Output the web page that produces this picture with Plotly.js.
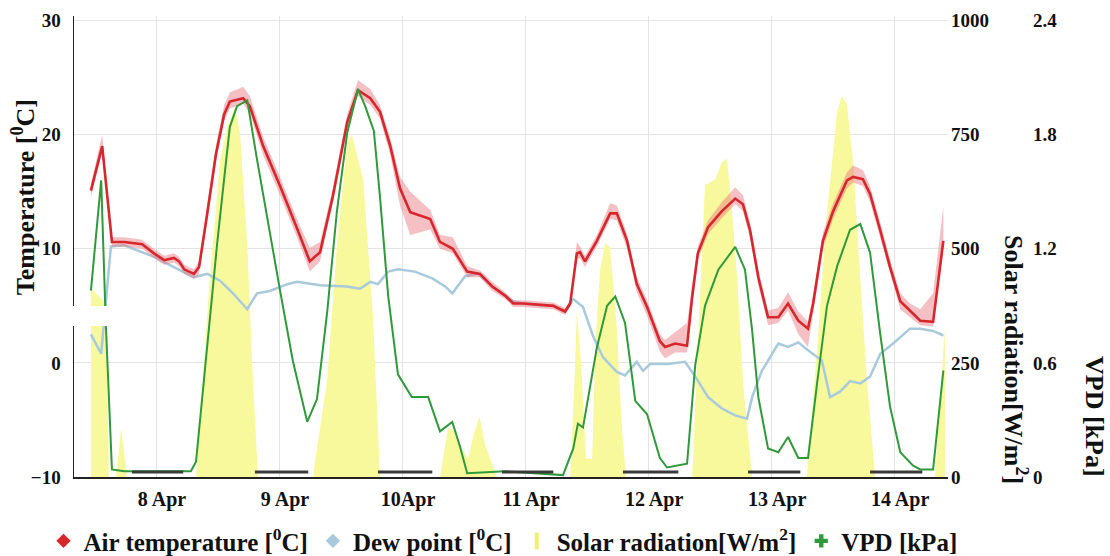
<!DOCTYPE html>
<html>
<head>
<meta charset="utf-8">
<script src="https://cdn.plot.ly/plotly-3.0.1.min.js"></script>
<style>
  html, body { margin: 0; padding: 0; background: #fff; }
  #chart { width: 1110px; height: 556px; }
  #chart svg text { font-family: "Liberation Serif", "Tinos", "Times New Roman", "DejaVu Serif", serif !important; }
</style>
</head>
<body>
<div id="chart"></div>
<script>
// ---- Data (hours relative to 8 Apr 00:00) ----
const dayTickHours = [0, 24, 48, 72, 96, 120, 144];
const dayTickLabels = ['8 Apr', '9 Apr', '10Apr', '11 Apr', '12 Apr', '13 Apr', '14 Apr'];

const tempHours = [-12.7,-10.5,-8.6,-6.2,-2.7,-0.4,1.6,3.5,4.5,5.5,7.4,8.4,10.0,11.7,13.3,14.4,17.0,18.3,20.9,24.2,
  27.5,30.0,32.0,34.5,37.3,39.4,41.8,43.7,45.7,47.6,49.6,53.5,55.4,57.9,60.7,63.2,65.6,68.1,69.7,71.6,
  77.5,79.8,80.8,82.1,82.7,83.7,86.0,88.6,89.9,91.9,93.8,95.8,98.3,99.3,101.3,103.6,104.6,105.7,107.7,110.4,
  113.0,114.5,115.9,117.5,119.4,121.4,123.3,125.3,127.2,128.2,130.1,132.1,134.8,136.0,137.9,139.3,141.3,143.2,145.2,147.1,
  149.1,151.6,153.6];
const airTemp = [15.1,19.0,10.6,10.6,10.4,9.6,9.0,9.2,8.9,8.2,7.8,8.4,13.1,18.3,21.8,22.9,23.2,22.5,19.0,15.5,
  11.8,8.9,9.7,14.6,21.1,23.9,23.2,22.0,19.0,15.3,13.2,12.6,10.6,10.0,8.0,7.8,6.7,5.9,5.2,5.2,
  5.0,4.5,5.2,9.6,9.7,8.9,10.7,13.1,13.1,10.7,6.9,4.9,1.9,1.4,1.7,1.5,5.8,9.6,11.9,13.3,
  14.4,13.9,11.6,7.5,4.0,4.0,5.2,3.7,3.0,5.2,10.7,13.3,16.0,16.3,16.1,14.8,11.6,8.4,5.4,4.6,
  3.7,3.6,10.7];
const airTempSpreadUp = [0.6,1.0,0.4,0.4,0.4,0.4,0.4,0.4,0.4,0.4,0.4,0.5,0.8,0.8,0.8,0.8,1.0,0.9,0.8,0.8,
  0.8,1.2,0.9,0.7,0.7,0.9,0.8,0.6,0.7,1.0,1.8,0.8,0.6,1.0,0.5,0.3,0.4,0.3,0.3,0.3,
  0.3,0.3,0.3,1.0,0.5,0.5,0.5,0.9,0.7,0.6,0.6,0.6,0.6,0.6,1.0,2.0,1.0,0.6,0.6,0.8,
  1.0,0.8,0.7,0.7,0.6,0.8,1.0,0.8,0.6,0.8,0.7,0.7,0.7,1.0,0.8,0.7,0.7,0.7,0.7,0.6,
  1.0,2.5,3.0];
const airTempSpreadDown = [0.6,0.5,0.4,0.4,0.4,0.4,0.4,0.4,0.4,0.4,0.4,0.6,0.6,0.6,0.6,0.6,0.5,0.6,0.8,0.8,
  0.8,0.9,0.8,0.6,0.6,0.5,0.6,0.6,0.8,1.5,2.0,0.9,0.6,0.4,0.5,0.3,0.4,0.3,0.3,0.3,
  0.3,0.3,0.3,0.5,0.5,0.5,0.5,0.5,0.6,0.7,0.7,0.8,0.9,1.0,0.8,0.6,0.8,0.6,0.6,0.6,
  0.5,0.6,0.7,0.7,0.7,0.5,0.6,1.2,1.6,0.8,0.7,0.7,0.7,0.5,0.6,0.7,0.7,0.7,0.7,0.6,
  0.4,0.4,0.5];

const dewHours = [-12.7,-10.7,-8.8,-6.2,-0.4,7.4,10.0,12.5,15.0,17.8,19.7,22.2,25.6,27.5,32.0,37.3,39.8,41.8,43.3,45.3,
  47.2,50.5,53.9,56.4,57.8,60.3,62.8,65.6,68.1,69.7,71.6,77.5,79.8,81.4,83.3,85.3,87.2,89.9,91.5,93.8,
  95.0,96.4,98.3,99.9,103.2,105.2,107.7,110.4,113.0,115.3,116.3,118.2,121.4,123.3,125.3,127.2,129.9,131.5,133.5,135.4,
  137.4,139.3,141.3,143.8,147.1,149.1,151.6,153.6];
const dewPoint = [2.5,0.8,10.2,10.3,9.3,7.5,7.8,7.2,6.1,4.7,6.1,6.3,6.9,7.1,6.8,6.7,6.5,7.1,6.9,8.0,
  8.2,8.0,7.4,6.7,6.1,7.6,7.8,6.7,5.9,5.4,5.2,5.0,4.5,5.6,4.9,2.3,0.5,-0.8,-1.1,0.1,
  -0.7,-0.1,-0.1,-0.1,0.1,-1.2,-3.0,-4.0,-4.6,-4.9,-3.0,-0.7,1.7,1.4,1.8,1.1,0.2,-3.0,-2.5,-1.6,
  -1.8,-1.2,0.8,1.7,3.0,3.0,2.8,2.4];

const solarHours = [-12.7,-9.8,-9.2,-7.8,-6.8,-5.7,7.8,10.5,12.5,13.9,15.4,16.4,17.8,18.9,19.9,30.6,33.4,35.3,37.3,38.2,
  40.4,42.3,43.7,55.4,57.0,58.3,59.7,60.9,61.9,63.1,64.2,65.2,66.5,80.8,81.6,82.1,82.9,83.9,85.1,85.7,
  86.6,87.6,88.6,89.9,90.9,91.7,104.6,105.7,107.1,109.1,110.4,111.4,112.4,113.4,114.5,116.3,127.0,129.0,130.9,132.9,
  133.8,134.8,136.0,137.0,138.7,140.3,152.0,153.0,153.9];
const solarRad = [414,380,0,0,108,0,0,435,693,766,810,752,509,214,0,0,214,509,730,750,
  653,354,0,0,108,100,60,40,90,133,70,38,0,0,200,365,250,40,40,285,
  450,513,502,325,104,0,0,285,639,652,690,697,580,431,210,0,0,285,580,801,
  834,816,690,507,210,0,0,170,330];

const vpdHours = [-12.7,-10.7,-9.8,-8.6,-6.2,-1.2,6.8,7.8,9.0,10.7,11.9,13.3,14.4,15.8,17.8,19.7,21.7,24.2,26.7,29.5,
  31.4,33.4,35.3,37.3,39.4,40.8,42.5,43.7,45.3,47.2,49.9,53.1,55.4,57.8,59.3,60.7,68.1,79.4,81.4,82.3,
  83.3,86.0,88.0,89.6,91.5,93.5,95.8,98.3,99.7,103.6,105.2,107.1,109.7,113.0,114.9,116.3,117.5,119.4,121.4,123.3,
  125.3,127.2,129.0,130.9,132.9,135.4,137.4,139.3,141.3,143.2,145.2,147.7,149.1,151.6,153.6];
const vpd = [0.98,1.56,0.81,0.04,0.03,0.03,0.03,0.08,0.42,0.86,1.22,1.57,1.84,1.95,1.98,1.67,1.36,0.98,0.61,0.29,
  0.41,0.87,1.40,1.81,2.04,1.95,1.82,1.47,0.95,0.54,0.42,0.42,0.24,0.29,0.16,0.02,0.03,0.01,0.15,0.28,
  0.26,0.68,0.90,0.95,0.81,0.40,0.33,0.10,0.05,0.07,0.59,0.90,1.09,1.21,1.09,0.77,0.42,0.15,0.13,0.21,
  0.10,0.10,0.50,0.90,1.11,1.30,1.33,1.18,0.75,0.37,0.13,0.06,0.04,0.04,0.56];

const nightStart = [-4.7, 19.3, 43.3, 67.5, 91.1, 115.5, 139.3];
const nightEnd   = [5.3, 29.7, 53.9, 77.5, 101.9, 125.7, 149.5];

// ---- Styles ----
const FONT = 'Liberation Serif';
const RED = '#d7262c', BLUE = '#a9c9dc', YELLOW = '#f8f89c', GREEN = '#2f9a3a';

const upper = airTemp.map((v, i) => v + airTempSpreadUp[i]);
const lower = airTemp.map((v, i) => v - airTempSpreadDown[i]);

// Base axis 'y' = solar radiation (drawn lowest); 'y2' = temperature; 'y3' = VPD (drawn on top)
const traces = [
  { x: solarHours, y: solarRad, yaxis: 'y', type: 'scatter', mode: 'lines',
    line: { width: 0, color: YELLOW }, fill: 'tozeroy', fillcolor: YELLOW, showlegend: false, hoverinfo: 'skip' },
  { x: dewHours, y: dewPoint, yaxis: 'y2', type: 'scatter', mode: 'lines',
    line: { color: BLUE, width: 2.5 }, showlegend: false },
  { x: tempHours, y: lower, yaxis: 'y2', type: 'scatter', mode: 'lines',
    line: { width: 0, color: 'rgba(0,0,0,0)' }, showlegend: false, hoverinfo: 'skip' },
  { x: tempHours, y: upper, yaxis: 'y2', type: 'scatter', mode: 'lines', fill: 'tonexty',
    fillcolor: 'rgba(232,115,125,0.45)', line: { width: 0, color: 'rgba(0,0,0,0)' }, showlegend: false, hoverinfo: 'skip' },
  { x: tempHours, y: airTemp, yaxis: 'y2', type: 'scatter', mode: 'lines',
    line: { color: RED, width: 2.6 }, showlegend: false },
  { x: vpdHours, y: vpd, yaxis: 'y3', type: 'scatter', mode: 'lines',
    line: { color: GREEN, width: 2 }, showlegend: false },
  // legend entries
  { x: [null], y: [null], yaxis: 'y3', type: 'scatter', mode: 'markers', name: 'Air temperature [<sup>0</sup>C]',
    marker: { symbol: 'diamond', size: 11, color: RED } },
  { x: [null], y: [null], yaxis: 'y3', type: 'scatter', mode: 'markers', name: 'Dew point [<sup>0</sup>C]',
    marker: { symbol: 'diamond', size: 11, color: BLUE } },
  { x: [null], y: [null], yaxis: 'y3', type: 'scatter', mode: 'markers', name: 'Solar radiation[W/m<sup>2</sup>]',
    marker: { symbol: 'line-ns', size: 12, line: { color: '#f0f070', width: 4 }, color: YELLOW } },
  { x: [null], y: [null], yaxis: 'y3', type: 'scatter', mode: 'markers', name: 'VPD [kPa]',
    marker: { symbol: 'cross', size: 11, color: GREEN } }
];

const shapes = nightStart.map((s, i) => ({
  type: 'line', xref: 'x', yref: 'paper', x0: s, x1: nightEnd[i], y0: 0.011, y1: 0.011,
  line: { color: '#3a3a3a', width: 3 }, layer: 'above'
}));
shapes.push({ type: 'rect', xref: 'paper', yref: 'paper', x0: -0.008, x1: 0.0335, y0: 0.3275, y1: 0.371,
  fillcolor: '#ffffff', line: { width: 0 }, layer: 'above' });

const tickFont = { family: FONT, size: 19, color: '#111', weight: 'bold' };
const titleFont = { family: FONT, size: 26, color: '#111', weight: 'bold' };

const layout = {
  width: 1110, height: 556,
  margin: { l: 74, r: 20, t: 16, b: 79, autoexpand: false },
  paper_bgcolor: '#fff', plot_bgcolor: '#fff',
  font: { family: FONT },
  showlegend: true,
  legend: { orientation: 'h', traceorder: 'normal', x: -0.03, xanchor: 'left', y: -0.139, yanchor: 'middle',
    font: { family: FONT, size: 25, color: '#111', weight: 'bold' }, bgcolor: 'rgba(0,0,0,0)', itemwidth: 30 },
  xaxis: { domain: [0, 0.8602], range: [-16.0, 154.5], tickmode: 'array', tickvals: dayTickHours, ticktext: dayTickLabels,
    showgrid: true, gridcolor: '#e4e4e4', gridwidth: 1, zeroline: false, showline: true, linecolor: '#222', linewidth: 1.5,
    ticks: '', tickfont: { family: FONT, size: 20, color: '#111', weight: 'bold' }, ticklabelshift: 6, ticklabelstandoff: 3 },
  yaxis: { side: 'right', anchor: 'x', range: [0, 1010], tickmode: 'array', tickvals: [0, 250, 500, 750, 1000],
    showgrid: true, gridcolor: '#e4e4e4', gridwidth: 1, zeroline: false, showline: false, ticks: '',
    tickfont: tickFont, ticklabelstandoff: 2 },
  yaxis2: { overlaying: 'y', side: 'left', anchor: 'x', range: [-10, 30.4], tickmode: 'array', tickvals: [-10, 0, 10, 20, 30],
    showgrid: false, zeroline: false, showline: true, linecolor: '#222', linewidth: 1.5,
    ticks: '', tickfont: tickFont, ticklabelstandoff: 8 },
  yaxis3: { overlaying: 'y', side: 'right', anchor: 'free', position: 0.941, range: [0, 2.424], tickmode: 'array',
    tickvals: [0, 0.6, 1.2, 1.8, 2.4], ticktext: ['0', '0.6', '1.2', '1.8', '2.4'],
    showgrid: false, zeroline: false, showline: false, ticks: '', tickfont: tickFont, ticklabelstandoff: 2 },
  shapes: shapes,
  annotations: [
    { text: 'Temperature [<sup>0</sup>C]', xref: 'paper', yref: 'paper', x: -0.0502, y: 0.607, textangle: -90,
      showarrow: false, xanchor: 'center', yanchor: 'middle', font: titleFont },
    { text: 'Solar radiation[W/m<sup>2</sup>]', xref: 'paper', yref: 'paper', x: 0.926, y: 0.254, textangle: 90,
      showarrow: false, xanchor: 'center', yanchor: 'middle', font: titleFont },
    { text: 'VPD [kPa]', xref: 'paper', yref: 'paper', x: 1.005, y: 0.132, textangle: 90,
      showarrow: false, xanchor: 'center', yanchor: 'middle', font: titleFont }
  ]
};

Plotly.newPlot('chart', traces, layout, { displayModeBar: false, staticPlot: true });
</script>
</body>
</html>
